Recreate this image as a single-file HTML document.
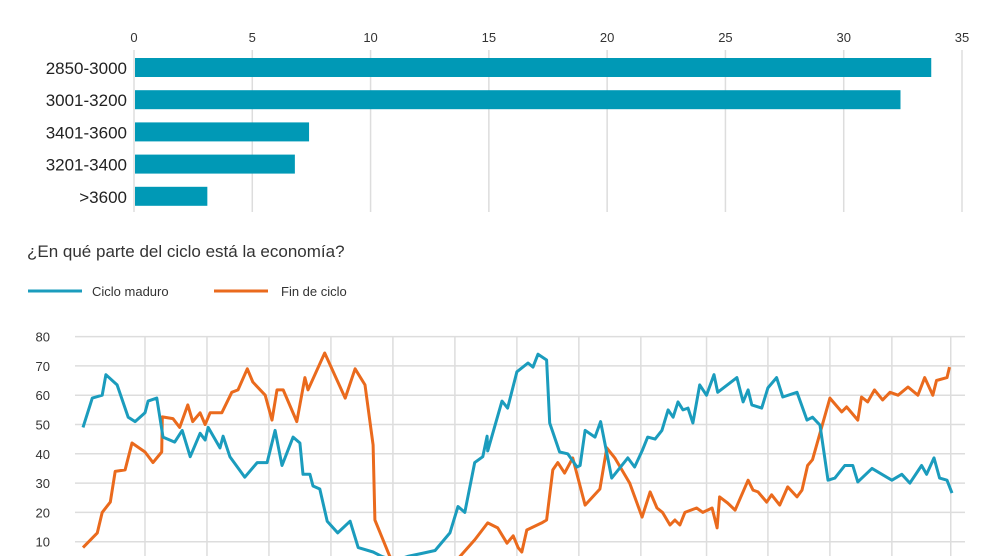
<!DOCTYPE html>
<html><head><meta charset="utf-8"><style>
html,body{margin:0;padding:0;background:#fff;width:990px;height:556px;overflow:hidden}
svg{display:block;font-family:"Liberation Sans",sans-serif}
</style></head><body>
<svg id="chart" width="990" height="556" viewBox="0 0 990 556">
<g id="bar-chart"></g>
<text x="27" y="257" font-size="17" fill="#333">¿En qué parte del ciclo está la economía?</text>
<g>
<g><line x1="28" y1="291" x2="82" y2="291" stroke="#1b9cbd" stroke-width="3"/><text x="92" y="296" font-size="13" fill="#333">Ciclo maduro</text></g>
<g><line x1="214" y1="291" x2="268" y2="291" stroke="#ea6a1d" stroke-width="3"/><text x="281" y="296" font-size="13" fill="#333">Fin de ciclo</text></g>
</g>
<g id="line-chart"></g>
</svg>
<script>
// Bar chart data
const barCats = ["2850-3000","3001-3200","3401-3600","3201-3400",">3600"];
const barVals = [33.7,32.4,7.4,6.8,3.1];
const barTicks = [0,5,10,15,20,25,30,35];
// Line chart data
const yTicks = [10,20,30,40,50,60,70,80];
const madT = [0,1.5,3.1,3.7,5.5,7.3,8.4,10,10.5,11.9,12.9,14.8,16,17.3,18.9,19.7,20.2,22.1,22.6,23.7,26.1,28.1,29.7,31,32.1,33.9,35,35.5,36.6,37.1,38.2,39.4,41.1,43.1,44.4,46.8,48.2,50.3,52.4,54.7,56.8,59.2,60.5,61.6,63.2,64.5,65.2,65.3,67.6,68.5,70,71.8,72.6,73.4,74.8,75.3,76.9,78.2,79.7,80.2,81,82.6,83.5,85.3,87.9,89,90.2,91.1,92.3,93.4,94.4,95.2,96,96.8,97.6,98.4,99.5,100.6,101.8,102.4,105.5,106.5,107.3,107.9,109.5,110.5,111.9,112.9,115.2,116.8,117.7,118.9,120.2,121.3,122.9,124.2,125,127.3,130.5,132.1,133.4,135.3,136.1,137.3,138.2,139.4,140.2];
const madV = [49,59,60,67,63.5,52.5,51,54,58,59,45.7,44,48,39,47,44.7,49,42,46,39,32,37,37,48,36,45.7,43.7,33,33,29,28,17,13,17,8,6.5,5,3.5,5,6,7,13,22,20,37,39,46,41,58,55.6,68,71,69.6,74,72,50.5,40.6,40,35.5,36,48,45.7,51,31.7,38.6,35.5,41,45.7,45,48,55,52.5,57.7,55,55.6,50.5,63.5,60,67,61,66,57.7,61.8,56.7,55.6,62.5,66,59.4,61,51.5,52.5,49.8,31,31.7,36,36,30.4,35,31,33,30,36,33,38.6,31.7,31,26.6];
const finT = [0,2.3,3.1,4.4,5.2,6.8,7.9,10,11.3,12.7,12.8,14.5,15.6,16.9,17.7,18.9,19.7,20.5,22.4,24,25,26.5,27.4,29.4,30.5,31.3,32.3,34.5,35.8,36.3,39,42.3,43.9,45.5,46.8,47.1,49.5,51.1,54.4,57.6,60,63.2,65.3,66.9,68.4,69.4,70.2,70.8,71.6,74,74.8,75.8,76.6,77.7,79,81,83.4,84.5,85.8,88.2,90.2,91.5,92.6,93.5,94.7,95.5,96.3,97.1,99,100,101.5,102.3,102.7,104,105.2,107.3,108.1,108.9,110.3,111.1,112.4,113.7,115.2,116,116.9,117.7,120.5,122.4,123.2,125,125.6,126.6,127.7,129,130.2,131.5,133.1,134.7,135.8,137.1,137.7,139.4,139.8];
const finV = [8,13,20,23.5,34,34.5,43.7,40.6,37,40.6,52.6,52,49,56.7,51,54,50,54,54,61,61.8,69,64.5,60,51.5,61.8,61.8,51,66,61.8,74.4,59,69,63.5,43,17.4,5,2,0,0,3,10.6,16.4,14.7,9.5,12,8,6.5,14,16.4,17.4,34.5,37,33.4,38.6,22.5,28,42,38.6,30,18.4,27,21.5,20,15.7,17.4,15.7,20,21.5,20,21.5,14.7,25.3,23.2,20.8,31,27.6,27,23.5,26,22.5,28.7,25.3,27.6,36,38,59,54.3,56,51.5,59.4,57.7,61.8,58.4,61,60,62.8,60,66,60,65,66,69.6];
const vGridT = [10,20,30,40,50,60,70,80,90,100.6,110.5,120.5,130.5,140];

const NS="http://www.w3.org/2000/svg";
function mk(tag,attrs,parent){const e=document.createElementNS(NS,tag);for(const k in attrs)e.setAttribute(k,attrs[k]);parent.appendChild(e);return e;}

// Bar chart
const bx=v=>134+v*(828/35);
const bg=document.getElementById('bar-chart');
barTicks.forEach(t=>{
  const l=mk('line',{x1:bx(t),x2:bx(t),y1:50,y2:212,stroke:'#ddd','stroke-width':1.5},bg);
  
  
  const tx=mk('text',{x:bx(t),y:42,'font-size':13,fill:'#333','text-anchor':'middle'},bg);
  tx.textContent=t;
  
  
});
barCats.forEach((c,i)=>{
  const y=58+i*32.2;
  const r=mk('rect',{x:bx(0)+1,y:y,width:bx(barVals[i])-bx(0)-1,height:19,fill:'#0099b6'},bg);
  
  
  const tx=mk('text',{x:127,y:y+16,'font-size':17,fill:'#222','text-anchor':'end'},bg);
  tx.textContent=c;
  
  
});

// Line chart
const lx=t=>83+t*(869/140.2);
const ly=v=>571-v*2.93;
const lg=document.getElementById('line-chart');
yTicks.forEach(v=>{
  const l=mk('line',{x1:75,x2:965,y1:ly(v),y2:ly(v),stroke:'#ddd','stroke-width':1.5},lg);
  
  
  const tx=mk('text',{x:50,y:ly(v)+5,'font-size':13,fill:'#333','text-anchor':'end'},lg);
  tx.textContent=v;
  
  
});
vGridT.forEach(t=>{
  const l=mk('line',{x1:lx(t),x2:lx(t),y1:ly(80),y2:556,stroke:'#ddd','stroke-width':1.5},lg);
  
  
});
function series(T,V,color,name){
  const d=T.map((t,i)=>(i?'L':'M')+lx(t).toFixed(1)+','+ly(V[i]).toFixed(1)).join(' ');
  const p=mk('path',{d:d,fill:'none',stroke:color,'stroke-width':3,'stroke-linejoin':'round'},lg);
  
  
}
series(finT,finV,'#ea6a1d','line-fin-de-ciclo');
series(madT,madV,'#1b9cbd','line-ciclo-maduro');
</script>
</body></html>
